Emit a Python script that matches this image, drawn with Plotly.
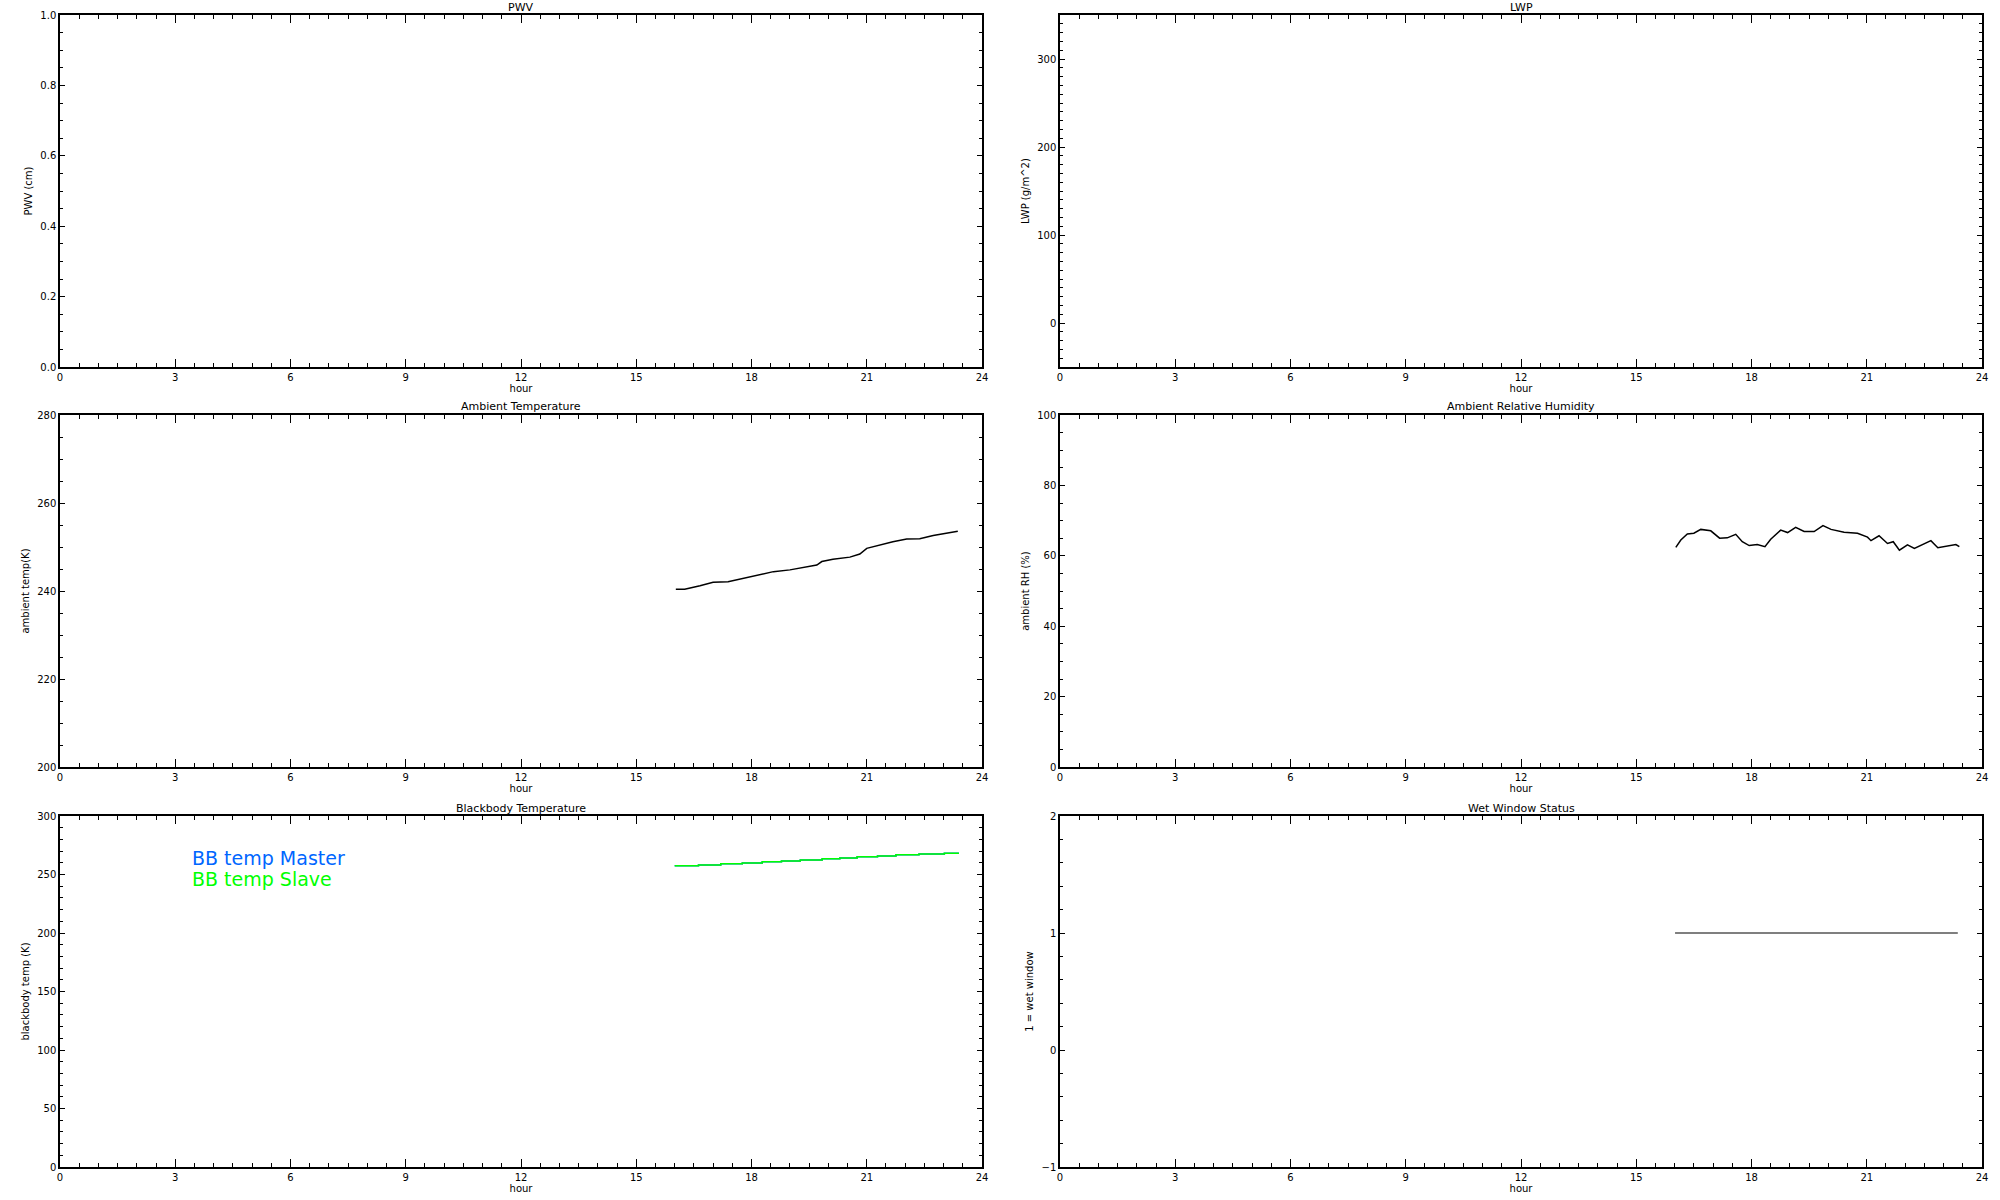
import plotly.graph_objects as go
from plotly.subplots import make_subplots

# ambient temperature (K) vs hour
TEMP_HOUR = [16.03, 16.26, 16.66, 17.00, 17.39, 17.70, 18.14, 18.57, 19.00, 19.45, 19.70, 19.83,
             20.12, 20.56, 20.82, 21.00, 21.35, 21.68, 22.04, 22.38, 22.73, 23.08, 23.37]
TEMP_K = [240.4, 240.4, 241.2, 242.0, 242.1, 242.7, 243.4, 244.4, 244.8, 245.5, 245.9, 246.7,
          247.2, 247.7, 248.4, 249.7, 250.5, 251.2, 251.8, 251.9, 252.6, 253.2, 253.6]

# ambient relative humidity (%) vs hour
RH_HOUR = [16.03, 16.16, 16.33, 16.50, 16.68, 16.94, 17.17, 17.37, 17.59, 17.76, 17.94, 18.15,
           18.35, 18.50, 18.76, 18.94, 19.15, 19.37, 19.63, 19.86, 20.07, 20.41, 20.76, 21.02,
           21.11, 21.32, 21.54, 21.69, 21.85, 22.06, 22.24, 22.50, 22.67, 22.85, 23.11, 23.32, 23.41]
RH_PCT = [62.4, 64.5, 66.2, 66.4, 67.5, 67.1, 65.0, 65.1, 66.1, 64.0, 62.9, 63.2,
          62.6, 64.7, 67.3, 66.6, 68.1, 66.9, 66.9, 68.6, 67.5, 66.7, 66.4, 65.3,
          64.3, 65.7, 63.5, 64.0, 61.6, 63.1, 62.1, 63.3, 64.3, 62.3, 62.8, 63.2, 62.6]

# blackbody temperature (K), stepped
BB_HOUR = [16.00, 16.62, 17.20, 17.76, 18.28, 18.78, 19.27, 19.84, 20.30, 20.75, 21.28, 21.76,
           22.36, 23.02, 23.40]
BB_SLAVE = [257.4, 258.2, 259.1, 259.9, 260.8, 261.6, 262.5, 263.4, 264.2, 265.1, 265.9, 266.8,
            267.6, 268.2, 268.2]
BB_MASTER = BB_SLAVE

# wet window flag
WET_HOUR = [16.01, 23.37]
WET_FLAG = [1, 1]

TITLES = ["PWV", "LWP", "Ambient Temperature", "Ambient Relative Humidity",
          "Blackbody Temperature", "Wet Window Status"]
YTITLES = ["PWV (cm)", "LWP (g/m^2)", "ambient temp(K)", "ambient RH (%)",
           "blackbody temp (K)", "1 = wet window"]
# (range, major, minor, format)
YAXES = [([0, 1], 0.2, 0.05, ".1f"), ([-50, 350], 100, 10, ""), ([200, 280], 20, 5, ""),
         ([0, 100], 20, 5, ""), ([0, 300], 50, 10, ""), ([-1, 2], 1, 0.2, "")]

W, H = 2000, 1200
XDOM = [(60 / W, 982 / W), (1060 / W, 1982 / W)]
YDOM = [(1 - 367 / H, 1 - 15 / H), (1 - 767 / H, 1 - 415 / H), (1 - 1167 / H, 1 - 816 / H)]

FONT = "DejaVu Sans"

fig = make_subplots(rows=3, cols=2)

line = dict(color="black", width=1.5)
# PWV and LWP have no data; empty traces keep their axes drawn
fig.add_trace(go.Scatter(x=[], y=[], mode="lines"), row=1, col=1)
fig.add_trace(go.Scatter(x=[], y=[], mode="lines"), row=1, col=2)
fig.add_trace(go.Scatter(x=TEMP_HOUR, y=TEMP_K, mode="lines", line=line), row=2, col=1)
fig.add_trace(go.Scatter(x=RH_HOUR, y=RH_PCT, mode="lines", line=line), row=2, col=2)
fig.add_trace(go.Scatter(x=BB_HOUR, y=BB_MASTER, mode="lines", line=dict(color="#0066FF", width=1.5),
                         line_shape="hv"), row=3, col=1)
fig.add_trace(go.Scatter(x=BB_HOUR, y=BB_SLAVE, mode="lines", line=dict(color="#00FF00", width=1.5),
                         line_shape="hv"), row=3, col=1)
fig.add_trace(go.Scatter(x=WET_HOUR, y=WET_FLAG, mode="lines", line=dict(color="black", width=1.2)), row=3, col=2)

common = dict(ticks="inside", tickwidth=1, tickcolor="black", showline=True,
              linecolor="black", linewidth=1.5, mirror="ticks", showgrid=False, zeroline=False,
              automargin=False, tickfont=dict(size=10, color="black", family=FONT))

annotations = []
for i in range(6):
    r, c = divmod(i, 2)
    n = "" if i == 0 else str(i + 1)
    rng, major, minor, fmt = YAXES[i]
    fig.layout["xaxis" + n].update(
        domain=XDOM[c], range=[0, 24], tick0=0, dtick=3, ticklen=8,
        minor=dict(ticks="inside", dtick=0.5, ticklen=4, tickcolor="black"),
        title=dict(text="hour", standoff=2, font=dict(size=10, family=FONT, color="black")),
        **common)
    fig.layout["yaxis" + n].update(
        domain=YDOM[r], range=rng, tick0=0, dtick=major, tickformat=fmt, ticklen=5,
        minor=dict(ticks="inside", dtick=minor, ticklen=3, tickcolor="black"),
        title=dict(text=YTITLES[i], standoff=6, font=dict(size=10, family=FONT, color="black")),
        **common)
    # title centred ~8px above the panel
    top_px = (1 - YDOM[r][1]) * H
    annotations.append(dict(text=TITLES[i], xref="paper", yref="paper",
                            x=(XDOM[c][0] + XDOM[c][1]) / 2, y=1 - max(top_px - 8, 7) / H,
                            xanchor="center", yanchor="middle", showarrow=False, borderpad=0,
                            font=dict(size=11, family=FONT, color="black")))

annotations.append(dict(text="BB temp Master", xref="x5", yref="y5", x=3.4, y=264.5,
                        xanchor="left", yanchor="middle", showarrow=False, borderpad=0,
                        font=dict(size=19, family=FONT, color="#0066FF")))
annotations.append(dict(text="BB temp Slave", xref="x5", yref="y5", x=3.4, y=246.5,
                        xanchor="left", yanchor="middle", showarrow=False, borderpad=0,
                        font=dict(size=19, family=FONT, color="#00FF00")))

fig.update_layout(width=W, height=H, autosize=False, showlegend=False,
                  margin=dict(l=0, r=0, t=0, b=0),
                  paper_bgcolor="white", plot_bgcolor="white",
                  annotations=annotations)

# drop the default page margin so the figure sits at the window corner
fig.write_html("out.html", config={"displayModeBar": False},
               post_script="document.body.style.margin='0px';")
